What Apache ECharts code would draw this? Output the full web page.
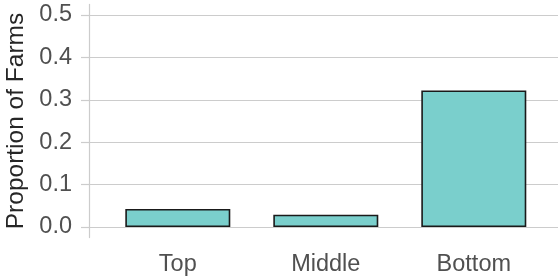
<!DOCTYPE html>
<html><head><meta charset="utf-8">
<script src="https://cdn.jsdelivr.net/npm/echarts@6/dist/echarts.min.js"></script>
<style>html,body{margin:0;padding:0;background:#fff}#c{width:558px;height:280px}</style>
</head><body><div id="c"></div>
<script>
const categories = ['Top', 'Middle', 'Bottom'];
const proportions = [0.0425, 0.029, 0.322];
const yTicks = [0, 0.1, 0.2, 0.3, 0.4, 0.5];

const chart = echarts.init(document.getElementById('c'), null, {renderer: 'canvas'});
const font = 'Liberation Sans, Arial, sans-serif';
chart.setOption({
  animation: false,
  grid: {left: 89, width: 473.6, top: 4.4, bottom: 42.4, containLabel: false, outerBoundsMode: 'none'},
  xAxis: {
    type: 'value', min: 0.4, max: 3.6,
    axisLine: {show: false},
    axisTick: {show: false},
    splitLine: {show: false},
    axisLabel: {
      customValues: categories.map((c, i) => i + 1),
      formatter: v => categories[Math.round(v) - 1] || '',
      color: '#505050', fontFamily: font, fontSize: 23.5, margin: 15
    }
  },
  yAxis: {
    type: 'value', min: -0.025, max: 0.525,
    name: 'Proportion of Farms', nameLocation: 'middle', nameGap: 58,
    nameTextStyle: {color: '#262626', fontFamily: font, fontSize: 24.5},
    axisLine: {show: true, lineStyle: {color: '#cccccc', width: 1.2}},
    axisTick: {show: true, length: 8, customValues: yTicks, lineStyle: {color: '#cccccc', width: 1.2}},
    splitLine: {show: true, lineStyle: {color: '#cccccc', width: 1.2}},
    axisLabel: {
      customValues: yTicks,
      formatter: v => v.toFixed(1),
      color: '#505050', fontFamily: font, fontSize: 23.5, margin: 17
    }
  },
  series: [{
    type: 'bar',
    data: proportions.map((v, i) => [i + 1, v]),
    barWidth: 105,
    itemStyle: {color: '#7acfcc', borderColor: '#1a1a1a', borderWidth: 1.6}
  }]
});
</script></body></html>
